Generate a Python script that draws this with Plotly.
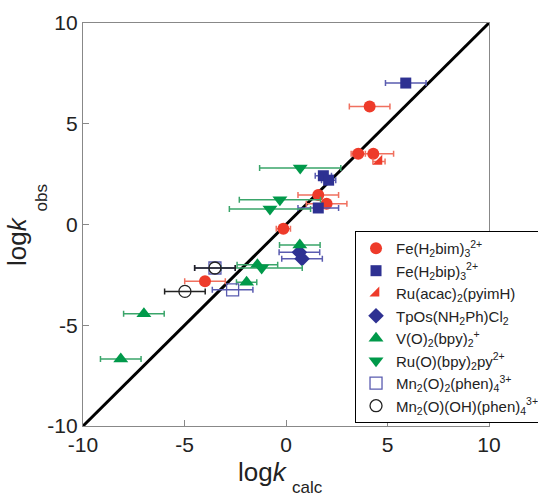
import plotly.graph_objects as go

# log k values (calculated vs observed) with uncertainties in log k_calc
fe_bim_calc = [4.12, 3.56, 4.30, 1.59, 2.00, -0.13, -3.99]
fe_bim_obs = [5.86, 3.51, 3.51, 1.46, 1.03, -0.21, -2.82]
fe_bim_err = [1.0, 0.35, 1.0, 1.0, 1.0, 0.35, 1.0]

fe_bip_calc = [5.90, 1.84, 2.10, 1.59]
fe_bip_obs = [7.02, 2.42, 2.20, 0.82]
fe_bip_err = [1.0, 0.4, 0.35, 1.0]

ru_acac_calc = [4.58]
ru_acac_obs = [3.13]
ru_acac_err = [0.3]

tpos_calc = [0.66, 0.79]
tpos_obs = [-1.38, -1.70]
tpos_err = [1.0, 1.0]

vo2_calc = [0.68, -1.41, -1.94, -7.00, -8.14]
vo2_obs = [-1.02, -2.00, -2.86, -4.43, -6.68]
vo2_err = [1.0, 1.0, 0.5, 1.0, 1.0]

ruo_calc = [0.70, -0.30, -0.79, -1.20]
ruo_obs = [2.80, 1.23, 0.77, -2.16]
ruo_err = [2.0, 2.0, 2.0, 2.0]

mn_oo_calc = [-3.50, -2.63]
mn_oo_obs = [-2.16, -3.24]
mn_oo_err = [1.0, 1.0]

mn_ooh_calc = [-3.50, -4.98]
mn_ooh_obs = [-2.16, -3.32]
mn_ooh_err = [1.0, 1.0]

axis_ticks = [-10, -5, 0, 5, 10]
axis_ticktext = ["-10", "-5", "0", "5", "10"]
identity = [-10, 10]

RED, RED_BAR = "#ee3b2a", "#f0705f"
BLUE, BLUE_BAR = "#2e3192", "#5a5cb0"
GREEN, GREEN_BAR = "#00994a", "#3aa56a"

series = [
    ("Fe(H<sub>2</sub>bim)<sub>3</sub><sup>2+</sup>", fe_bim_calc, fe_bim_obs, fe_bim_err,
     "circle", 12, RED, RED, RED_BAR),
    ("Fe(H<sub>2</sub>bip)<sub>3</sub><sup>2+</sup>", fe_bip_calc, fe_bip_obs, fe_bip_err,
     "square", 11, BLUE, BLUE, BLUE_BAR),
    ("Ru(acac)<sub>2</sub>(pyimH)", ru_acac_calc, ru_acac_obs, ru_acac_err,
     "triangle-se", 11, RED, RED, RED_BAR),
    ("TpOs(NH<sub>2</sub>Ph)Cl<sub>2</sub>", tpos_calc, tpos_obs, tpos_err,
     "diamond", 12, BLUE, BLUE, BLUE_BAR),
    ("V(O)<sub>2</sub>(bpy)<sub>2</sub><sup>+</sup>", vo2_calc, vo2_obs, vo2_err,
     "triangle-up", 13, GREEN, GREEN, GREEN_BAR),
    ("Ru(O)(bpy)<sub>2</sub>py<sup>2+</sup>", ruo_calc, ruo_obs, ruo_err,
     "triangle-down", 13, GREEN, GREEN, GREEN_BAR),
    ("Mn<sub>2</sub>(O)<sub>2</sub>(phen)<sub>4</sub><sup>3+</sup>", mn_oo_calc, mn_oo_obs, mn_oo_err,
     "square-open", 12, BLUE_BAR, BLUE_BAR, BLUE_BAR),
    ("Mn<sub>2</sub>(O)(OH)(phen)<sub>4</sub><sup>3+</sup>", mn_ooh_calc, mn_ooh_obs, mn_ooh_err,
     "circle-open", 12, "#222222", "#222222", "#222222"),
]

fig = go.Figure()

# y = x reference line
fig.add_trace(go.Scatter(x=identity, y=identity, mode="lines",
                         line=dict(color="black", width=3), showlegend=False,
                         hoverinfo="skip"))

for name, xs, ys, errs, sym, size, fill, edge, barc in series:
    fig.add_trace(go.Scatter(
        x=xs, y=ys, mode="markers", name=name,
        marker=dict(symbol=sym, size=size, color=fill,
                    line=dict(color=edge, width=1.3 if "open" in sym else 0)),
        error_x=dict(type="data", array=errs, visible=True, color=barc,
                     thickness=1.5, width=3),
    ))

axis_common = dict(
    range=[-10, 10], tickvals=axis_ticks, ticktext=axis_ticktext,
    ticks="inside", ticklen=6, tickcolor="#888888", tickwidth=1,
    showline=True, linecolor="#888888", linewidth=1.2, mirror=True,
    showgrid=False, zeroline=False,
    tickfont=dict(family="Arial, Liberation Sans, sans-serif", size=21, color="#222222"),
)

fig.update_layout(
    width=538, height=498,
    margin=dict(l=83, r=49, t=23, b=72, autoexpand=False),
    paper_bgcolor="white", plot_bgcolor="white",
    xaxis=dict(**axis_common),
    yaxis=dict(**axis_common),
    legend=dict(
        x=0.67, y=0.484, xanchor="left", yanchor="top",
        bordercolor="black", borderwidth=1, bgcolor="white",
        font=dict(family="Arial, Liberation Sans, sans-serif", size=15, color="#222222"),
        tracegroupgap=0,
    ),
    font=dict(family="Arial, Liberation Sans, sans-serif"),
)

# axis titles: log k with a dropped subscript
title_font = dict(family="Arial, Liberation Sans, sans-serif", size=26, color="#222222")
sub_font = dict(family="Arial, Liberation Sans, sans-serif", size=17, color="#222222")
fig.add_annotation(text="log<i>k</i>", xref="paper", yref="paper",
                   x=(263 - 83) / 406, y=(426 - 472) / 403, showarrow=False,
                   font=title_font, xanchor="center", yanchor="middle")
fig.add_annotation(text="calc", xref="paper", yref="paper",
                   x=(290 - 83) / 406, y=(426 - 487) / 403, showarrow=False,
                   font=sub_font, xanchor="left", yanchor="middle")
fig.add_annotation(text="log<i>k</i>", xref="paper", yref="paper",
                   x=(17 - 83) / 406, y=(426 - 241) / 403, showarrow=False,
                   font=title_font, textangle=-90, xanchor="center", yanchor="middle")
fig.add_annotation(text="obs", xref="paper", yref="paper",
                   x=(41 - 83) / 406, y=(426 - 214) / 403, showarrow=False,
                   font=sub_font, textangle=-90, xanchor="center", yanchor="bottom")

fig.write_html("out.html")
